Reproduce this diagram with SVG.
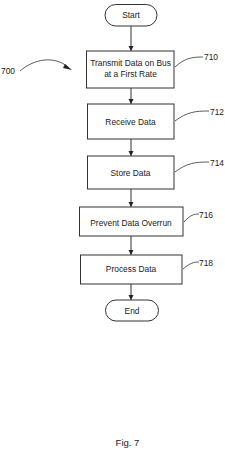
<svg xmlns="http://www.w3.org/2000/svg" width="225" height="451" viewBox="0 0 225 451">
<style>
.box{fill:#fff;stroke:#333;stroke-width:1}
.t{font-family:"Liberation Sans",Arial,sans-serif;font-size:8.4px;fill:#222;text-anchor:middle}
.ref{font-family:"Liberation Sans",Arial,sans-serif;font-size:8.4px;fill:#222}
.c{fill:none;stroke:#333;stroke-width:0.8}
.a{fill:none;stroke:#333;stroke-width:1}
</style>
<defs>
<marker id="ah" markerWidth="6" markerHeight="6" refX="5" refY="3" orient="auto" markerUnits="userSpaceOnUse">
<path d="M0,0.5 L5,3 L0,5.5 Z" fill="#222"/>
</marker>
</defs>
<rect width="225" height="451" fill="#fff"/>
<g id="connectors">
<line class="a" x1="131" y1="26" x2="131" y2="51" marker-end="url(#ah)"/>
<line class="a" x1="131" y1="88" x2="131" y2="104" marker-end="url(#ah)"/>
<line class="a" x1="131" y1="139" x2="131" y2="156" marker-end="url(#ah)"/>
<line class="a" x1="131" y1="189" x2="131" y2="207" marker-end="url(#ah)"/>
<line class="a" x1="131" y1="236" x2="131" y2="255" marker-end="url(#ah)"/>
<line class="a" x1="131" y1="284" x2="131" y2="300" marker-end="url(#ah)"/>
</g>
<g id="start">
<rect class="box" x="105" y="4.5" width="52" height="21.5" rx="10.75"/>
<text class="t" x="131" y="18">Start</text>
</g>
<g id="n710">
<rect class="box" x="86.5" y="51" width="87.5" height="37"/>
<text class="t" x="130.5" y="66">Transmit Data on Bus</text>
<text class="t" x="130.5" y="77">at a First Rate</text>
<path class="c" d="M175,67 C185,58 192,57 203,57"/>
<text class="ref" x="204" y="60">710</text>
</g>
<g id="n712">
<rect class="box" x="87.5" y="104" width="86.5" height="35"/>
<text class="t" x="130.5" y="124.5">Receive Data</text>
<path class="c" d="M175,121 C187,112 195,111 209,111"/>
<text class="ref" x="210" y="115">712</text>
</g>
<g id="n714">
<rect class="box" x="87.5" y="156" width="86.5" height="33"/>
<text class="t" x="130.5" y="175.5">Store Data</text>
<path class="c" d="M175,172 C187,163 195,162 209,162"/>
<text class="ref" x="210" y="166">714</text>
</g>
<g id="n716">
<rect class="box" x="79.5" y="207" width="103.5" height="29"/>
<text class="t" x="131" y="225.5">Prevent Data Overrun</text>
<path class="c" d="M184,222 C190,215 194,214 199,214"/>
<text class="ref" x="199" y="218">716</text>
</g>
<g id="n718">
<rect class="box" x="80.5" y="255" width="101.5" height="29"/>
<text class="t" x="131" y="272">Process Data</text>
<path class="c" d="M183,269 C190,263 194,262 199,262"/>
<text class="ref" x="199" y="266">718</text>
</g>
<g id="end">
<rect class="box" x="105.5" y="300" width="53" height="21" rx="10.5"/>
<text class="t" x="132" y="313.5">End</text>
</g>
<g id="n700">
<text class="ref" x="1" y="74">700</text>
<path class="c" d="M20,71 C35,58 55,56 68,67"/>
<path d="M65,64 L72,70 L63,68 Z" fill="#222"/>
</g>
<text class="t" x="127.5" y="446" style="font-size:9.5px">Fig. 7</text>
</svg>
